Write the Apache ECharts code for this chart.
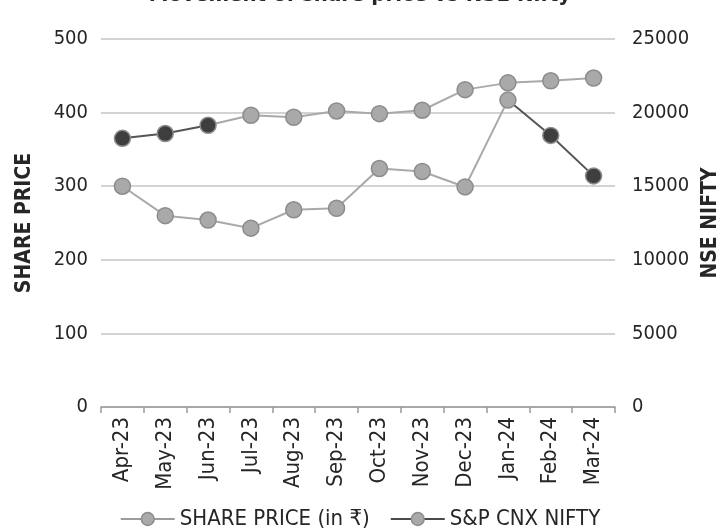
<!DOCTYPE html>
<html>
<head>
<meta charset="utf-8">
<title>Share price vs NSE Nifty</title>
<script src="https://cdn.jsdelivr.net/npm/echarts@6/dist/echarts.min.js"></script>
<style>
  html, body { margin: 0; padding: 0; background: #ffffff; }
  #chart { width: 720px; height: 529px; }
</style>
</head>
<body>
<div id="chart"></div>
<script>
// Monthly closing values, April 2023 to March 2024
const months = ['Apr-23', 'May-23', 'Jun-23', 'Jul-23', 'Aug-23', 'Sep-23',
                'Oct-23', 'Nov-23', 'Dec-23', 'Jan-24', 'Feb-24', 'Mar-24'];
const sharePrice = [300, 260, 254, 243, 268, 270, 324, 320, 299, 417, 369, 314];
const niftyIndex = [18250, 18580, 19140, 19820, 19680, 20110, 19930, 20160, 21560, 22020, 22160, 22350];

// Axis ranges
const priceAxis = { min: 0, max: 500, step: 100 };
const niftyAxis = { min: 0, max: 25000, step: 5000 };

const FONT = "'DejaVu Sans Condensed', 'DejaVu Sans', sans-serif";
const TEXT = '#262626';
const LIGHT = '#a9a9a9';
const DARK = '#3e3e3e';
const BORDER = '#8c8c8c';

// Shading: share price turns dark after Jan-24, Nifty is dark up to Jun-23
const priceDarkAfter = 9;
const niftyDarkUpTo = 2;

const priceName = 'SHARE PRICE (in ₹)';
const niftyName = 'S&P CNX NIFTY';

const chart = echarts.init(document.getElementById('chart'), null, { renderer: 'canvas' });

const priceData = sharePrice.map((v, i) => ({
  value: v,
  itemStyle: { color: i > priceDarkAfter ? DARK : LIGHT }
}));
const niftyData = niftyIndex.map((v, i) => ({
  value: v,
  itemStyle: { color: i <= niftyDarkUpTo ? DARK : LIGHT }
}));

chart.setOption({
  animation: false,
  backgroundColor: '#ffffff',
  textStyle: { fontFamily: FONT },
  title: {
    text: 'Movement of share price vs NSE Nifty',
    left: 'center',
    top: -21,
    textStyle: { fontFamily: FONT, fontSize: 22, fontWeight: 'bold', color: TEXT }
  },
  grid: { left: 101, right: 105, top: 39, bottom: 122, outerBoundsMode: 'none', containLabel: false },
  legend: {
    top: 503,
    left: 'center',
    itemWidth: 54,
    itemHeight: 16,
    itemGap: 20,
    textStyle: { fontFamily: FONT, fontSize: 22, color: TEXT },
    data: [
      { name: priceName, itemStyle: { color: LIGHT, borderColor: BORDER, borderWidth: 1.5 },
        lineStyle: { color: '#9c9c9c', width: 2 } },
      { name: niftyName, itemStyle: { color: LIGHT, borderColor: BORDER, borderWidth: 1.5 },
        lineStyle: { color: '#4a4a4a', width: 2 } }
    ]
  },
  xAxis: {
    type: 'category',
    data: months,
    boundaryGap: true,
    axisLine: { lineStyle: { color: '#9a9a9a', width: 1.5 } },
    axisTick: { show: true, length: 6, lineStyle: { color: '#9a9a9a', width: 1.5 } },
    axisLabel: { rotate: 90, fontFamily: FONT, fontSize: 22, color: TEXT, margin: 10 }
  },
  yAxis: [
    {
      type: 'value',
      min: priceAxis.min, max: priceAxis.max, interval: priceAxis.step,
      name: 'SHARE PRICE',
      nameLocation: 'middle',
      nameRotate: 90,
      nameGap: 66,
      nameTextStyle: { fontFamily: FONT, fontSize: 21, fontWeight: 'bold', color: TEXT },
      axisLine: { show: false },
      axisTick: { show: false },
      axisLabel: { fontFamily: FONT, fontSize: 20, color: TEXT, margin: 13 },
      splitLine: { lineStyle: { color: '#c4c4c4', width: 1.5 } }
    },
    {
      type: 'value',
      position: 'right',
      min: niftyAxis.min, max: niftyAxis.max, interval: niftyAxis.step,
      name: 'NSE NIFTY',
      nameLocation: 'middle',
      nameRotate: 90,
      nameGap: 79,
      nameTextStyle: { fontFamily: FONT, fontSize: 21, fontWeight: 'bold', color: TEXT },
      axisLine: { show: false },
      axisTick: { show: false },
      axisLabel: { fontFamily: FONT, fontSize: 20, color: TEXT, margin: 17,
                   formatter: (v) => String(v) },
      splitLine: { show: false }
    }
  ],
  series: [
    {
      name: priceName,
      type: 'line',
      yAxisIndex: 0,
      data: priceData,
      symbol: 'circle',
      symbolSize: 16,
      lineStyle: { width: 2, color: LIGHT },
      itemStyle: { color: LIGHT, borderColor: BORDER, borderWidth: 1.5 }
    },
    {
      name: niftyName,
      type: 'line',
      yAxisIndex: 1,
      data: niftyData,
      symbol: 'circle',
      symbolSize: 16,
      lineStyle: { width: 2, color: LIGHT },
      itemStyle: { color: LIGHT, borderColor: BORDER, borderWidth: 1.5 }
    }
  ]
});

// Two-tone lines: a hard colour stop at the category where the shading changes,
// placed using the axis' own pixel mapping.
const xFirst = chart.convertToPixel({ xAxisIndex: 0 }, 0);
const xLast = chart.convertToPixel({ xAxisIndex: 0 }, months.length - 1);
function splitGradient(index, leftColor, rightColor) {
  const xs = chart.convertToPixel({ xAxisIndex: 0 }, index);
  const t = (xs - xFirst) / (xLast - xFirst);
  return new echarts.graphic.LinearGradient(xFirst, 0, xLast, 0, [
    { offset: 0, color: leftColor },
    { offset: t, color: leftColor },
    { offset: t, color: rightColor },
    { offset: 1, color: rightColor }
  ], true);
}

chart.setOption({
  series: [
    { name: priceName, lineStyle: { color: splitGradient(priceDarkAfter, LIGHT, '#555555') } },
    { name: niftyName, lineStyle: { color: splitGradient(niftyDarkUpTo, '#555555', LIGHT) } }
  ]
});
</script>
</body>
</html>
